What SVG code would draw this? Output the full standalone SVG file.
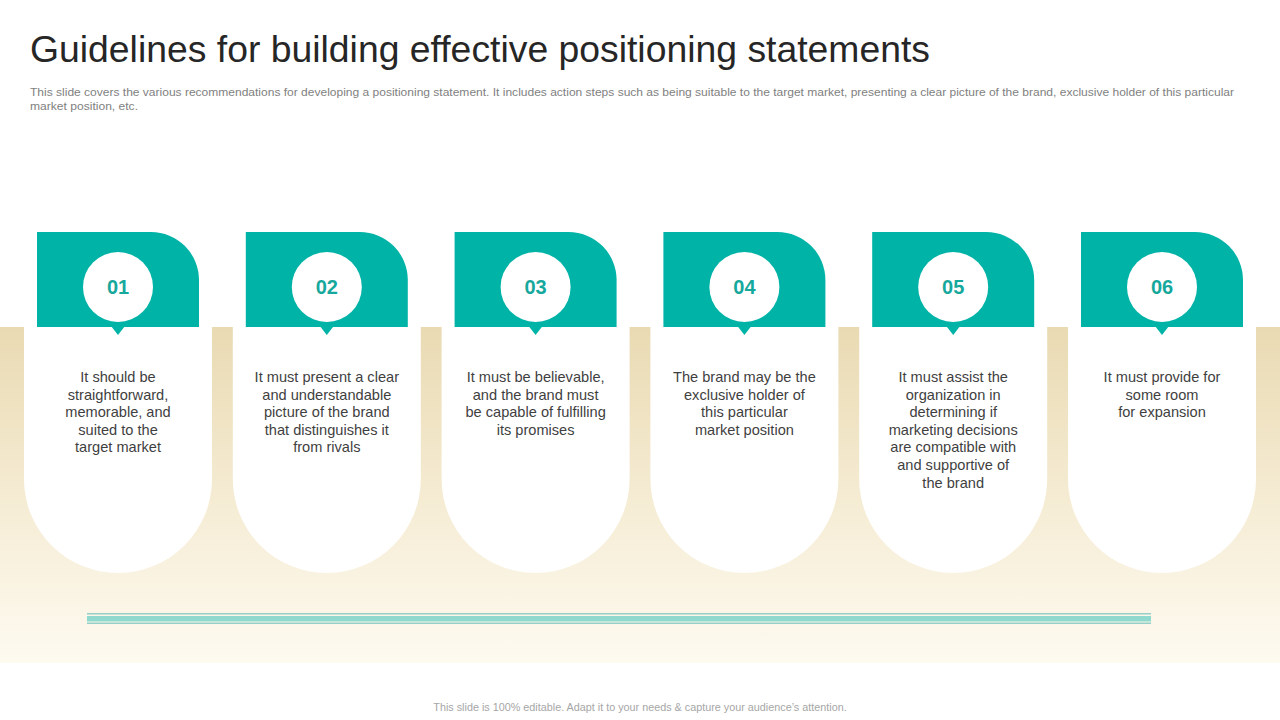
<svg xmlns="http://www.w3.org/2000/svg" width="1280" height="720" viewBox="0 0 1280 720">
  <defs>
    <linearGradient id="bg" x1="0" y1="0" x2="0" y2="1">
      <stop offset="0" stop-color="#E9DAB2"/>
      <stop offset="0.55" stop-color="#F6EDD6"/>
      <stop offset="1" stop-color="#FDFAF0"/>
    </linearGradient>
    <g id="card">
      <path class="white" d="M-94,327 V479 A94,94 0 0 0 94,479 V327 Z"/>
      <path class="tab" d="M-81,232 H33 A48,48 0 0 1 81,280 V327 H-81 Z"/>
      <path class="tab" d="M-7,326 L7,326 L0,335 Z"/>
      <circle class="white" cx="0" cy="287" r="35"/>
    </g>
  </defs>
  <style>
    .tab { fill: #00B3A7; }
    .white { fill: #FFFFFF; }
    .num { font-family: "Liberation Sans", Arial, sans-serif; font-size: 20px; font-weight: bold; fill: #17A89D; text-anchor: middle; }
    .body { font-family: "Liberation Sans", Arial, sans-serif; font-size: 14.6px; fill: #3F3F3F; text-anchor: middle; }
    .title { font-family: "Liberation Sans", Arial, sans-serif; font-size: 37px; fill: #262626; }
    .sub { font-family: "Liberation Sans", Arial, sans-serif; font-size: 11.5px; fill: #7F7F7F; }
    .foot { font-family: "Liberation Sans", Arial, sans-serif; font-size: 10.8px; fill: #A6A6A6; text-anchor: middle; }
  </style>
  <rect width="1280" height="720" fill="#FFFFFF"/>
  <rect x="0" y="327" width="1280" height="336" fill="url(#bg)"/>

  <text class="title" x="30" y="62" textLength="900" lengthAdjust="spacingAndGlyphs">Guidelines for building effective positioning statements</text>
  <text class="sub" x="30" y="96" textLength="1204" lengthAdjust="spacingAndGlyphs">This slide covers the various recommendations for developing a positioning statement. It includes action steps such as being suitable to the target market, presenting a clear picture of the brand, exclusive holder of this particular</text>
  <text class="sub" x="30" y="110" textLength="108" lengthAdjust="spacingAndGlyphs">market position, etc.</text>

  <g id="connectors">
    <rect x="87" y="613" width="1064" height="1.5" fill="#96CFC7"/>
    <rect x="87" y="616" width="1064" height="5.5" fill="#8FD9CF"/>
    <rect x="87" y="622.5" width="1064" height="1.5" fill="#96CFC7"/>
  </g>

  <g id="node-01" transform="translate(118,0)">
    <use href="#card"/>
    <text class="num" x="0" y="294">01</text>
    <text class="body" x="0" y="382">It should be</text>
    <text class="body" x="0" y="399.6">straightforward,</text>
    <text class="body" x="0" y="417.2">memorable, and</text>
    <text class="body" x="0" y="434.8">suited to the</text>
    <text class="body" x="0" y="452.4">target market</text>
  </g>
  <g id="node-02" transform="translate(326.8,0)">
    <use href="#card"/>
    <text class="num" x="0" y="294">02</text>
    <text class="body" x="0" y="382">It must present a clear</text>
    <text class="body" x="0" y="399.6">and understandable</text>
    <text class="body" x="0" y="417.2">picture of the brand</text>
    <text class="body" x="0" y="434.8">that distinguishes it</text>
    <text class="body" x="0" y="452.4">from rivals</text>
  </g>
  <g id="node-03" transform="translate(535.6,0)">
    <use href="#card"/>
    <text class="num" x="0" y="294">03</text>
    <text class="body" x="0" y="382">It must be believable,</text>
    <text class="body" x="0" y="399.6">and the brand must</text>
    <text class="body" x="0" y="417.2">be capable of fulfilling</text>
    <text class="body" x="0" y="434.8">its promises</text>
  </g>
  <g id="node-04" transform="translate(744.4,0)">
    <use href="#card"/>
    <text class="num" x="0" y="294">04</text>
    <text class="body" x="0" y="382">The brand may be the</text>
    <text class="body" x="0" y="399.6">exclusive holder of</text>
    <text class="body" x="0" y="417.2">this particular</text>
    <text class="body" x="0" y="434.8">market position</text>
  </g>
  <g id="node-05" transform="translate(953.2,0)">
    <use href="#card"/>
    <text class="num" x="0" y="294">05</text>
    <text class="body" x="0" y="382">It must assist the</text>
    <text class="body" x="0" y="399.6">organization in</text>
    <text class="body" x="0" y="417.2">determining if</text>
    <text class="body" x="0" y="434.8">marketing decisions</text>
    <text class="body" x="0" y="452.4">are compatible with</text>
    <text class="body" x="0" y="470">and supportive of</text>
    <text class="body" x="0" y="487.6">the brand</text>
  </g>
  <g id="node-06" transform="translate(1162,0)">
    <use href="#card"/>
    <text class="num" x="0" y="294">06</text>
    <text class="body" x="0" y="382">It must provide for</text>
    <text class="body" x="0" y="399.6">some room</text>
    <text class="body" x="0" y="417.2">for expansion</text>
  </g>

  <text class="foot" x="640" y="711">This slide is 100% editable.  Adapt it to your needs &amp; capture your audience’s attention.</text>
</svg>
